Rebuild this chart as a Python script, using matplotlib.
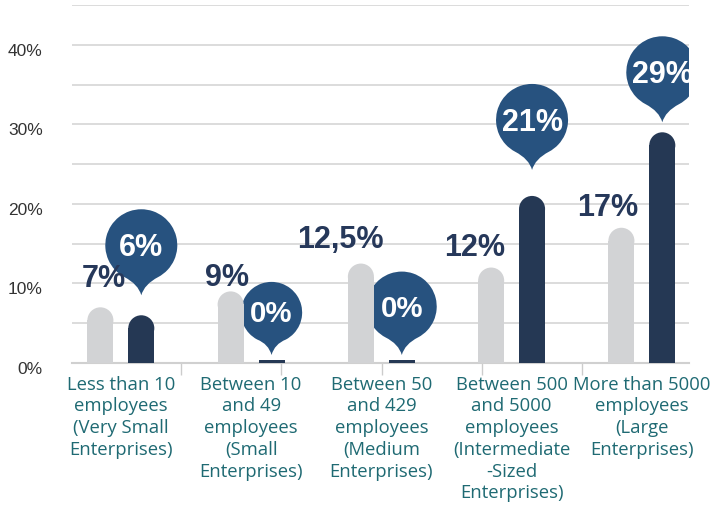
import matplotlib.pyplot as plt
import matplotlib.transforms as mtransforms
import numpy as np
from matplotlib.patches import Ellipse, PathPatch, Rectangle
from matplotlib.path import Path

categories = [
    "Less than 10\nemployees\n(Very Small\nEnterprises)",
    "Between 10\nand 49\nemployees\n(Small\nEnterprises)",
    "Between 50\nand 429\nemployees\n(Medium\nEnterprises)",
    "Between 500\nand 5000\nemployees\n(Intermediate\n-Sized\nEnterprises)",
    "More than 5000\nemployees\n(Large\nEnterprises)",
]
light_values = [7, 9, 12.5, 12, 17]
light_labels = ["7%", "9%", "12,5%", "12%", "17%"]
dark_values = [6, 0, 0, 21, 29]
dark_labels = ["6%", "0%", "0%", "21%", "29%"]

# styling
LIGHT = "#d2d3d5"
DARK = "#253854"
BALLOON = "#27527f"
VALUE_TXT = "#26385a"
CAT_TXT = "#1f6a73"
GRID = "#d9d9d9"

# per-label nudges in pixels (dx, height of baseline above the bar top)
light_dx = [3, -4, -21, -17, -14]
light_dy = [20, 5, 16, 12, 12]
# balloon tip gap above the bar top, and balloon size
balloon_gap = [20, 8, 8, 26, 10]
balloon_scale = [1.0, 0.85, 0.97, 1.0, 1.0]

fig = plt.figure(figsize=(7.26, 5.07), dpi=100)
ax = fig.add_axes([72 / 726, (507 - 363) / 507, 617 / 726, 358 / 507])

ax.set_xlim(-0.375, 4.362)
ax.set_ylim(0, 45)

x = np.arange(len(categories))
off = 0.157
bw = 0.2

# pixels per data unit
px_x = ax.bbox.width / (4.362 + 0.375)
px_y = ax.bbox.height / 45.0
cap_ry = (bw * px_x / 2) / px_y


def rounded_bar(xc, v, color, z):
    if v * px_y < 4:
        ax.add_patch(Rectangle((xc - bw / 2, 0), bw, 3.5 / px_y, color=color, lw=0, zorder=z))
        return
    body = max(v - cap_ry, 0)
    ax.add_patch(Rectangle((xc - bw / 2, 0), bw, body, color=color, lw=0, zorder=z))
    ax.add_patch(Ellipse((xc, body), bw, 2 * cap_ry, color=color, lw=0, zorder=z))


def balloon_path(r=36, h=50):
    # teardrop in pixels, tip at origin
    arc = Path.arc(-62, 242)
    verts = [(0, 0)]
    codes = [Path.MOVETO]
    a0 = np.deg2rad(-62)
    p0 = (r * np.cos(a0), h + r * np.sin(a0))
    verts += [(3, 11), p0]
    codes += [Path.CURVE3, Path.CURVE3]
    av = arc.vertices * r + np.array([0, h])
    verts += list(map(tuple, av[1:]))
    codes += list(arc.codes[1:])
    verts += [(-3, 11), (0, 0), (0, 0)]
    codes += [Path.CURVE3, Path.CURVE3, Path.CLOSEPOLY]
    return Path(verts, codes)


for i in x:
    rounded_bar(i - off, light_values[i], LIGHT, 3)
    rounded_bar(i + off, dark_values[i], DARK, 3)

    ax.annotate(light_labels[i], (i - off, light_values[i]),
                xytext=(light_dx[i] * 0.72, light_dy[i] * 0.72), textcoords="offset points",
                ha="center", va="baseline", fontsize=22, fontweight="bold",
                color=VALUE_TXT, family="Liberation Sans", zorder=4)

    s = balloon_scale[i]
    r, h = 36 * s, 50 * s
    gap = balloon_gap[i]
    trans = (mtransforms.Affine2D().scale(1 / 100).translate(0, gap / 100)
             + fig.dpi_scale_trans
             + mtransforms.ScaledTranslation(i + off, dark_values[i], ax.transData))
    ax.add_patch(PathPatch(balloon_path(r, h), facecolor=BALLOON, edgecolor="none",
                           transform=trans, zorder=2))
    ax.annotate(dark_labels[i], (i + off, dark_values[i]),
                xytext=(0, (gap + h - 11 * s) * 0.72), textcoords="offset points",
                ha="center", va="baseline", fontsize=22 * (0.96 if s < 1 else 1),
                fontweight="bold", color="white", family="Liberation Sans", zorder=2.5)

    ax.text(i, -0.035, categories[i], transform=ax.get_xaxis_transform(),
            ha="center", va="top", fontsize=13.3, color=CAT_TXT,
            family="Open Sans", linespacing=1.27)

# y axis: labels every 10 %, grid every 5 %
ax.set_yticks(np.arange(0, 41, 10))
ax.set_yticklabels([f"{v}%" for v in range(0, 41, 10)])
ax.set_yticks(np.arange(5, 46, 10), minor=True)
ax.yaxis.grid(True, which="both", color=GRID, lw=1.3, zorder=0)
ax.tick_params(axis="y", which="both", length=0, pad=21, labelsize=12.5, labelcolor="#333333")
for lbl in ax.get_yticklabels():
    lbl.set_family("Liberation Sans")
    lbl.set_transform(lbl.get_transform()
                      + mtransforms.ScaledTranslation(0, -0.05, fig.dpi_scale_trans))

# odd category separators along the bottom
seps = (np.array([181, 281, 382, 482, 582]) - 72) / px_x - 0.375
ax.set_xticks(seps)
ax.set_xticklabels([])
ax.tick_params(axis="x", length=8.6, width=1, color="#cccccc")

ax.set_axisbelow(True)
for side in ["top", "right", "left"]:
    ax.spines[side].set_visible(False)
ax.spines["bottom"].set_color("#d0d0d0")
ax.spines["bottom"].set_linewidth(1.5)

fig.savefig("out.png", dpi=100)
